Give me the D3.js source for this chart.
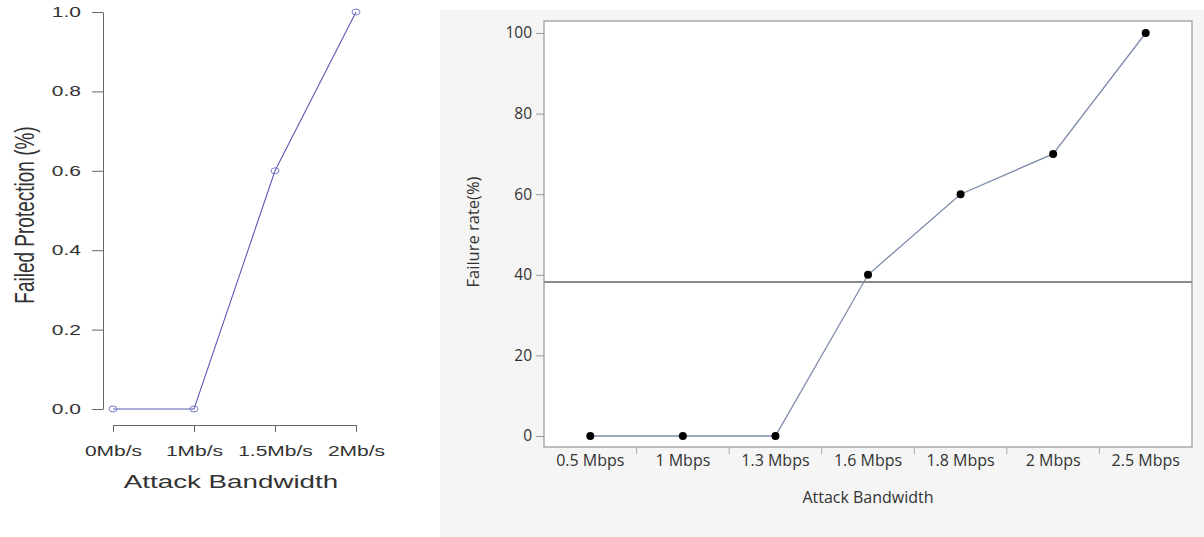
<!DOCTYPE html>
<meta charset="utf-8">
<style>

body {
  margin: 0;
  background: #fff;
}

.left text {
  font-family: "Liberation Sans", Arial, sans-serif;
  fill: #333;
}

.left .domain, .left .tick line {
  stroke: #666;
}

.right text {
  font-family: "Open Sans", "Noto Sans", sans-serif;
  fill: #333;
}

.right .domain {
  display: none;
}

.right .tick line {
  stroke: #999;
}

</style>
<body>
<svg width="1204" height="537"></svg>
<script src="https://d3js.org/d3.v7.min.js"></script>
<script>

// left chart data
var leftCats = ["0Mb/s", "1Mb/s", "1.5Mb/s", "2Mb/s"];
var leftVals = [0, 0, 0.6, 1.0];
var leftTicks = [0, 0.2, 0.4, 0.6, 0.8, 1.0];

// right chart data
var rightCats = ["0.5 Mbps", "1 Mbps", "1.3 Mbps", "1.6 Mbps", "1.8 Mbps", "2 Mbps", "2.5 Mbps"];
var rightVals = [0, 0, 0, 40, 60, 70, 100];
var rightTicks = [0, 20, 40, 60, 80, 100];
var refLine = 38.2;

var svg = d3.select("svg");

// the left picture is stretched sideways, so its text is too
var sx = 1.5;

/* ---------- left chart ---------- */
var L = svg.append("g").attr("class", "left");

var lx = d3.scalePoint().domain(leftCats).range([113, 356]);
var ly = d3.scaleLinear().domain([0, 1]).range([409, 12]);

var lyAxis = L.append("g")
    .attr("transform", "translate(103,0)")
    .call(d3.axisLeft(ly).tickValues(leftTicks).tickFormat(d3.format(".1f"))
      .tickSize(11).tickSizeOuter(0));
lyAxis.selectAll("text")
    .style("font-size", "14px")
    .attr("x", -22 / sx)
    .attr("transform", "scale(" + sx + ",1)");

var lxAxis = L.append("g")
    .attr("transform", "translate(0,425)")
    .call(d3.axisBottom(lx).tickSize(7).tickSizeOuter(0).tickPadding(14));
lxAxis.selectAll("text")
    .style("font-size", "14px")
    .attr("transform", "scale(" + sx + ",1)");

L.append("path")
    .datum(leftVals)
    .attr("fill", "none")
    .attr("stroke", "#5c5cb4")
    .attr("stroke-width", 1.1)
    .attr("d", d3.line()
      .x(function(d, i) { return lx(leftCats[i]); })
      .y(function(d) { return ly(d); }));

L.selectAll(".pt")
    .data(leftVals)
  .enter().append("ellipse")
    .attr("class", "pt")
    .attr("cx", function(d, i) { return lx(leftCats[i]); })
    .attr("cy", function(d) { return ly(d); })
    .attr("rx", 4)
    .attr("ry", 3)
    .attr("fill", "none")
    .attr("stroke", "#7a7acc")
    .attr("stroke-width", 1);

L.append("text")
    .attr("transform", "translate(231,488) scale(" + sx + ",1)")
    .attr("text-anchor", "middle")
    .style("font-size", "18.5px")
    .text("Attack Bandwidth");

L.append("text")
    .attr("transform", "translate(34,215) scale(" + sx + ",1) rotate(-90)")
    .attr("text-anchor", "middle")
    .style("font-size", "19px")
    .text("Failed Protection (%)");

/* ---------- right chart ---------- */
var R = svg.append("g").attr("class", "right");

R.append("rect")
    .attr("x", 440).attr("y", 10)
    .attr("width", 764).attr("height", 527)
    .attr("fill", "#f5f5f5");

var rx = d3.scaleBand().domain(rightCats).range([544, 1192]);
var ry = d3.scaleLinear().domain([0, 100]).range([436, 33]);

R.append("rect")
    .attr("x", 544).attr("y", 21)
    .attr("width", 648).attr("height", 426)
    .attr("fill", "#fff")
    .attr("stroke", "#aaa")
    .attr("stroke-width", 1.5);

var ryAxis = R.append("g")
    .attr("transform", "translate(544,0)")
    .call(d3.axisLeft(ry).tickValues(rightTicks).tickSize(8).tickPadding(4));
ryAxis.selectAll("text").style("font-size", "15.5px");

var rxAxis = R.append("g")
    .attr("transform", "translate(0,447)")
    .call(d3.axisBottom(rx).tickSize(0).tickPadding(8));
rxAxis.selectAll("text").style("font-size", "16px");

// separators between categories
R.selectAll(".sep")
    .data(rightCats.slice(1))
  .enter().append("line")
    .attr("class", "sep")
    .attr("x1", function(d) { return rx(d); })
    .attr("x2", function(d) { return rx(d); })
    .attr("y1", 447)
    .attr("y2", 454)
    .attr("stroke", "#aaa");

R.append("line")
    .attr("x1", 544).attr("x2", 1192)
    .attr("y1", ry(refLine)).attr("y2", ry(refLine))
    .attr("stroke", "#8a8a8a")
    .attr("stroke-width", 2);

R.append("path")
    .datum(rightVals)
    .attr("fill", "none")
    .attr("stroke", "#7f8bab")
    .attr("stroke-width", 1.3)
    .attr("d", d3.line()
      .x(function(d, i) { return rx(rightCats[i]) + rx.bandwidth() / 2; })
      .y(function(d) { return ry(d); }));

R.selectAll(".dot")
    .data(rightVals)
  .enter().append("circle")
    .attr("class", "dot")
    .attr("cx", function(d, i) { return rx(rightCats[i]) + rx.bandwidth() / 2; })
    .attr("cy", function(d) { return ry(d); })
    .attr("r", 4)
    .attr("fill", "#000");

R.append("text")
    .attr("x", 868)
    .attr("y", 503)
    .attr("text-anchor", "middle")
    .style("font-size", "16px")
    .text("Attack Bandwidth");

R.append("text")
    .attr("transform", "translate(479,232) rotate(-90)")
    .attr("text-anchor", "middle")
    .style("font-size", "16.5px")
    .text("Failure rate(%)");

</script>
